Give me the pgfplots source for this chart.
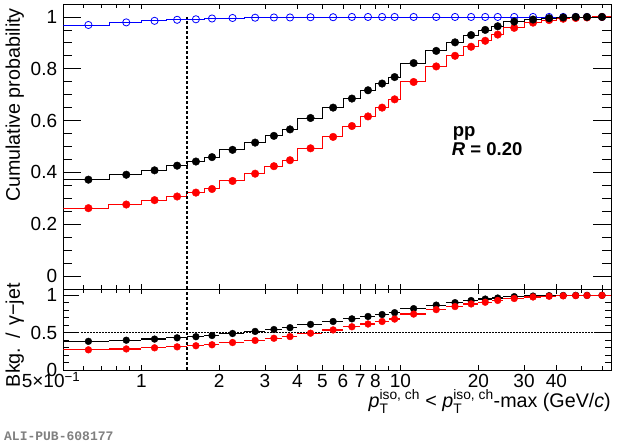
\documentclass[border=0pt]{standalone}
\usepackage{pgfplots}
\pgfplotsset{compat=1.18}
\usepackage{pgfplotstable}
\usepackage{amsmath}
\usepackage{fontspec}
\setmainfont{Liberation Sans}
\newfontfamily\alimono{Liberation Mono}

\pgfplotstableread{
lo c bk rd bl
0.5 0.625 0.372 0.262 0.969
0.75 0.875 0.391 0.276 0.979
1 1.125 0.408 0.293 0.985
1.25 1.375 0.426 0.307 0.989
1.5 1.625 0.442 0.322 0.991
1.75 1.875 0.459 0.336 0.994
2 2.25 0.487 0.367 0.996
2.5 2.75 0.515 0.395 0.997
3 3.25 0.541 0.424 0.998
3.5 3.75 0.566 0.447 0.998
4 4.5 0.610 0.493 0.999
5 5.5 0.650 0.537 0.999
6 6.5 0.685 0.579 1.0
7 7.5 0.717 0.616 1.0
8 8.5 0.743 0.650 1.0
9 9.5 0.768 0.682 1.0
10 11.25 0.822 0.749 1.0
12.5 13.75 0.869 0.809 1.0
15 16.25 0.902 0.850 1.0
17.5 18.75 0.930 0.885 1.0
20 21.25 0.950 0.908 1.0
22.5 23.75 0.964 0.932 1.0
25 27.5 0.982 0.958 1.0
30 32.5 0.990 0.978 1.0
35 37.5 0.995 0.988 1.0
40 42.5 0.998 0.993 1.0
45 47.5 1.000 0.996 1.0
50 52.5 1.000 0.998 1.0
55 60 1.000 1.000 1.0
65 nan 1.000 1.000 1.0
}\cumtab

\pgfplotstableread{
c em ep rbk rrd
0.625 0.125 0.125 0.384 0.270
0.875 0.125 0.125 0.399 0.282
1.125 0.125 0.125 0.414 0.297
1.375 0.125 0.125 0.431 0.310
1.625 0.125 0.125 0.446 0.325
1.875 0.125 0.125 0.462 0.338
2.25 0.25 0.25 0.489 0.368
2.75 0.25 0.25 0.517 0.396
3.25 0.25 0.25 0.542 0.425
3.75 0.25 0.25 0.567 0.448
4.5 0.5 0.5 0.611 0.493
5.5 0.5 0.5 0.650 0.537
6.5 0.5 0.5 0.685 0.579
7.5 0.5 0.5 0.717 0.616
8.5 0.5 0.5 0.743 0.650
9.5 0.5 0.5 0.768 0.682
11.25 1.25 1.25 0.822 0.749
13.75 1.25 1.25 0.869 0.809
16.25 1.25 1.25 0.902 0.850
18.75 1.25 1.25 0.930 0.885
21.25 1.25 1.25 0.950 0.908
23.75 1.25 1.25 0.964 0.932
27.5 2.5 2.5 0.982 0.958
32.5 2.5 2.5 0.990 0.978
37.5 2.5 2.5 0.995 0.988
42.5 2.5 2.5 0.998 0.993
47.5 2.5 2.5 1.000 0.996
52.5 2.5 2.5 1.000 0.998
60 5 5 1.000 1.000
}\ratiotab

\tikzset{dashln/.style={black, line width=1.3pt, dash pattern=on 3pt off 2pt}}

\begin{document}
\begin{tikzpicture}
% top panel
\begin{axis}[
  xmode=log, xmin=0.5, xmax=65,
  scale only axis, width=547.7pt, height=285pt,
  anchor=south west, at={(63.3pt,157pt)},
  axis line style={line width=0.8pt},
  tick align=inside, xtick pos=both, ytick pos=both,
  tick style={black, line width=0.8pt},
  xtick={0.5,1,2,3,4,5,6,7,8,10,20,30,40},
  minor xtick={0.6,0.7,0.8,0.9,9,50,60},
  xtick style={/pgfplots/major tick length=5pt,/pgfplots/minor tick length=4pt},
  tick label style={font=\fontsize{19}{22}\selectfont, inner sep=1pt},
  yticklabel style={xshift=-5pt},
  label style={font=\fontsize{19.7}{23}\selectfont},
  ymin=-0.05, ymax=1.05,
  ytick={0,0.2,0.4,0.6,0.8,1}, yticklabels={0,0.2,0.4,0.6,0.8,1},
  minor ytick={0.05,0.1,0.15,0.25,0.3,0.35,0.45,0.5,0.55,0.65,0.7,0.75,0.85,0.9,0.95},
  major tick length=18pt, minor tick length=9pt,
  xticklabels={},
  ylabel={Cumulative probability},
  ylabel style={at={(axis description cs:-0.0791,0.986)}, anchor=base east, inner sep=0pt},
]
\addplot[blue, line width=0.8pt, const plot, no marks] table[x=lo,y=bl]{\cumtab};
\addplot[blue, only marks, mark=o, mark size=3.6pt, mark options={line width=0.8pt}] table[x=c,y=bl]{\cumtab};
\addplot[red, line width=1pt, const plot, no marks] table[x=lo,y=rd]{\cumtab};
\addplot[red, only marks, mark=*, mark size=3.8pt] table[x=c,y=rd]{\cumtab};
\addplot[black, line width=0.8pt, const plot, no marks] table[x=lo,y=bk]{\cumtab};
\addplot[black, only marks, mark=*, mark size=3.8pt] table[x=c,y=bk]{\cumtab};
\addplot[dashln] coordinates {(1.5,-0.05) (1.5,1.0)};
\end{axis}
% bottom panel
\begin{axis}[
  xmode=log, xmin=0.5, xmax=65,
  scale only axis, width=547.7pt, height=81pt,
  anchor=south west, at={(63.3pt,76pt)},
  axis line style={line width=0.8pt},
  tick align=inside, xtick pos=both, ytick pos=both,
  tick style={black, line width=0.8pt},
  xtick={0.5,1,2,3,4,5,6,7,8,10,20,30,40},
  minor xtick={0.6,0.7,0.8,0.9,9,50,60},
  xtick style={/pgfplots/major tick length=5pt,/pgfplots/minor tick length=4pt},
  tick label style={font=\fontsize{19}{22}\selectfont, inner sep=1pt},
  yticklabel style={xshift=-5pt},
  xticklabel style={anchor=base, yshift=-17.5pt},
  label style={font=\fontsize{19.7}{23}\selectfont},
  ymin=0, ymax=1.085,
  ytick={0,0.5,1}, yticklabels={0,0.5,1},
  minor ytick={0.1,0.2,0.3,0.4,0.6,0.7,0.8,0.9},
  major tick length=16pt, minor tick length=6pt,
  xticklabels={\makebox[34pt][r]{5×10\textsuperscript{−1}},1,2,3,4,5,6,7,8,10,20,30,40},
  xlabel={$\textit{p}^{\text{iso, ch}}_{\text{T}}$ < $\textit{p}^{\text{iso, ch}}_{\text{T}}$-max (GeV/\textit{c})},
  xlabel style={at={(axis description cs:1,0)}, anchor=base east, yshift=-38pt, inner sep=0pt},
  ylabel={Bkg.\hspace{2pt} / \hspace{2pt}γ−jet},
  ylabel style={at={(axis description cs:-0.0791,1.074)}, anchor=base east, inner sep=0pt},
]
\addplot[black, line width=1pt, dash pattern=on 1.2pt off 1.8pt] coordinates {(0.5,0.5) (65,0.5)};
\addplot[dashln] coordinates {(1.5,0) (1.5,1.085)};
\addplot[black, only marks, mark=*, mark size=3.4pt,
  error bars/.cd, x dir=both, x explicit, error mark=none,
  error bar style={line width=1.2pt, black}]
  table[x=c, y=rbk, x error minus=em, x error plus=ep]{\ratiotab};
\addplot[red, only marks, mark=*, mark size=3.4pt,
  error bars/.cd, x dir=both, x explicit, error mark=none,
  error bar style={line width=1.2pt, red}]
  table[x=c, y=rrd, x error minus=em, x error plus=ep]{\ratiotab};
\end{axis}
\node[anchor=base west, inner sep=0pt, font=\fontsize{18.5}{22}\selectfont\bfseries] at (452.7pt,309.3pt) {pp};
\node[anchor=base west, inner sep=0pt, font=\fontsize{18.5}{22}\selectfont\bfseries] at (451.7pt,290pt) {\textit{R} = 0.20};
\node[anchor=base west, inner sep=0pt, text=gray, font=\fontsize{13}{15}\alimono\bfseries] at (4pt,5pt) {ALI-PUB-608177};
\pgfresetboundingbox
\path (0pt,0pt) rectangle (620pt,446pt);
\end{tikzpicture}
\end{document}
